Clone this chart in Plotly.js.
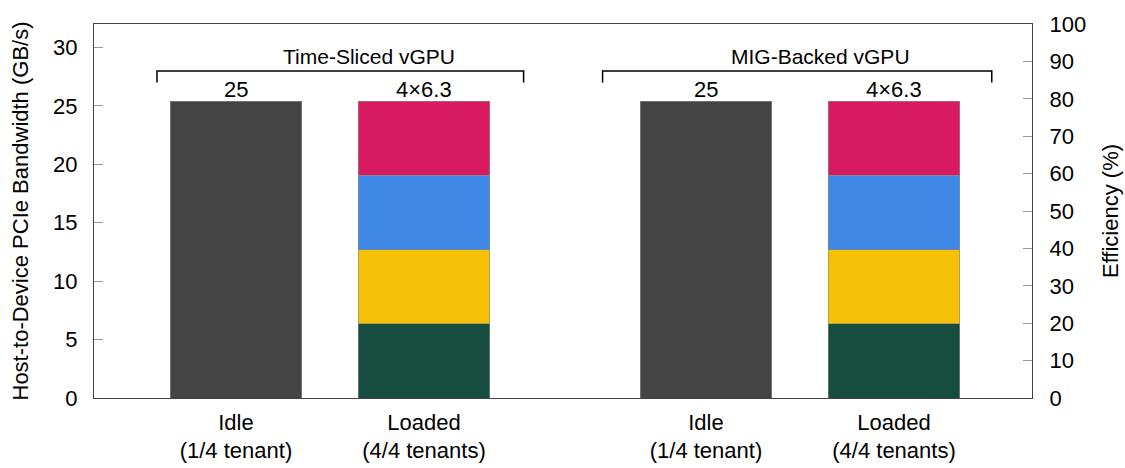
<!DOCTYPE html>
<html>
<head>
<meta charset="utf-8">
<script src="https://cdn.plot.ly/plotly-3.0.1.min.js"></script>
<style>
  html, body { margin: 0; padding: 0; background: #fff; }
  #chart { width: 1125px; height: 468px; }
</style>
</head>
<body>
<div id="chart"></div>
<script>
// ---------------- data
var groups = ['Time-Sliced vGPU', 'MIG-Backed vGPU'];
var states = ['Idle<br>(1/4 tenant)', 'Loaded<br>(4/4 tenants)'];
var idleBw = [25.4, 25.4];          // GB/s, single tenant
var tenant1 = [6.35, 6.35];         // GB/s per tenant when loaded
var tenant2 = [6.35, 6.35];
var tenant3 = [6.35, 6.35];
var tenant4 = [6.35, 6.35];
var idleLabels = ['25', '25'];
var loadedLabels = ['4×6.3', '4×6.3'];

// ---------------- layout helpers
var groupGap = 2.5;   // distance between first bars of the two groups
function xpos(g, i) { return g * groupGap + i; }

var idleX = groups.map(function (_, g) { return xpos(g, 0); });
var loadX = groups.map(function (_, g) { return xpos(g, 1); });

var fnt = 'Liberation Sans, Arial, Helvetica, sans-serif';
var edge = { color: 'rgba(140,140,140,0.8)', width: 0.8 };
var bw = 0.70;

function stackTrace(vals, color) {
  return {
    type: 'bar', x: loadX, y: vals, width: bw,
    marker: { color: color, line: edge },
    hoverinfo: 'y', showlegend: false
  };
}

var data = [
  { type: 'bar', x: idleX, y: idleBw, width: bw,
    marker: { color: '#444444', line: edge }, hoverinfo: 'y', showlegend: false },
  stackTrace(tenant1, '#174D3F'),
  stackTrace(tenant2, '#F5C107'),
  stackTrace(tenant3, '#3F88E5'),
  stackTrace(tenant4, '#D81B60'),
  // empty trace so the right axis is drawn
  { type: 'scatter', x: [], y: [], yaxis: 'y2', showlegend: false, hoverinfo: 'skip' }
];

var tickvals = [], ticktext = [];
groups.forEach(function (_, g) {
  states.forEach(function (s, i) { tickvals.push(xpos(g, i)); ticktext.push(s); });
});

// bar value labels
var annotations = [];
groups.forEach(function (_, g) {
  var loadTop = tenant1[g] + tenant2[g] + tenant3[g] + tenant4[g];
  annotations.push({ x: idleX[g], y: idleBw[g], text: idleLabels[g], showarrow: false,
    yanchor: 'bottom', yshift: -3, font: { family: fnt, size: 22, color: '#000' } });
  annotations.push({ x: loadX[g], y: loadTop, text: loadedLabels[g], showarrow: false,
    yanchor: 'bottom', yshift: -3, font: { family: fnt, size: 22, color: '#000' } });
});

// group brackets and titles
var bracketL = [-0.42, 1.95];
var bracketR = [1.53, 4.02];
var titleX = [0.71, 3.11];
var shapes = [];
groups.forEach(function (name, g) {
  shapes.push({
    type: 'path', xref: 'x', yref: 'y',
    path: 'M ' + bracketL[g] + ' 27.0 L ' + bracketL[g] + ' 27.97 L ' +
          bracketR[g] + ' 27.97 L ' + bracketR[g] + ' 27.0',
    line: { color: '#000', width: 1.5 }
  });
  annotations.push({ x: titleX[g], y: 29.25, text: name, showarrow: false,
    yanchor: 'middle', font: { family: fnt, size: 21, color: '#000' } });
});

var layout = {
  width: 1125, height: 468,
  margin: { l: 94, r: 93, t: 24, b: 70 },
  paper_bgcolor: '#fff', plot_bgcolor: '#fff',
  font: { family: fnt, size: 22, color: '#000' },
  barmode: 'stack',
  showlegend: false,
  xaxis: {
    range: [-0.755, 4.234],
    tickvals: tickvals, ticktext: ticktext,
    ticks: '', showgrid: false, zeroline: false,
    showline: true, linecolor: '#444', linewidth: 1.2, mirror: true,
    ticklabelstandoff: 4,
    tickfont: { family: fnt, size: 22 }
  },
  yaxis: {
    range: [0, 32], dtick: 5, tick0: 0,
    ticks: 'inside', ticklen: 9, tickcolor: '#999', tickwidth: 1,
    ticklabelstandoff: 11,
    showgrid: false, zeroline: false,
    showline: true, linecolor: '#444', linewidth: 1.2,
    tickfont: { family: fnt, size: 22 },
    title: { text: 'Host-to-Device PCIe Bandwidth (GB/s)', standoff: 18,
             font: { family: fnt, size: 22 } }
  },
  yaxis2: {
    overlaying: 'y', side: 'right', range: [0, 100], dtick: 10, tick0: 0,
    ticks: 'inside', ticklen: 9, tickcolor: '#999', tickwidth: 1,
    ticklabelstandoff: 12,
    showgrid: false, zeroline: false,
    showline: true, linecolor: '#444', linewidth: 1.2,
    tickfont: { family: fnt, size: 22 },
    title: { text: 'Efficiency (%)', standoff: 17, font: { family: fnt, size: 22 } }
  },
  shapes: shapes,
  annotations: annotations
};

Plotly.newPlot('chart', data, layout, { displayModeBar: false, staticPlot: true });
</script>
</body>
</html>
